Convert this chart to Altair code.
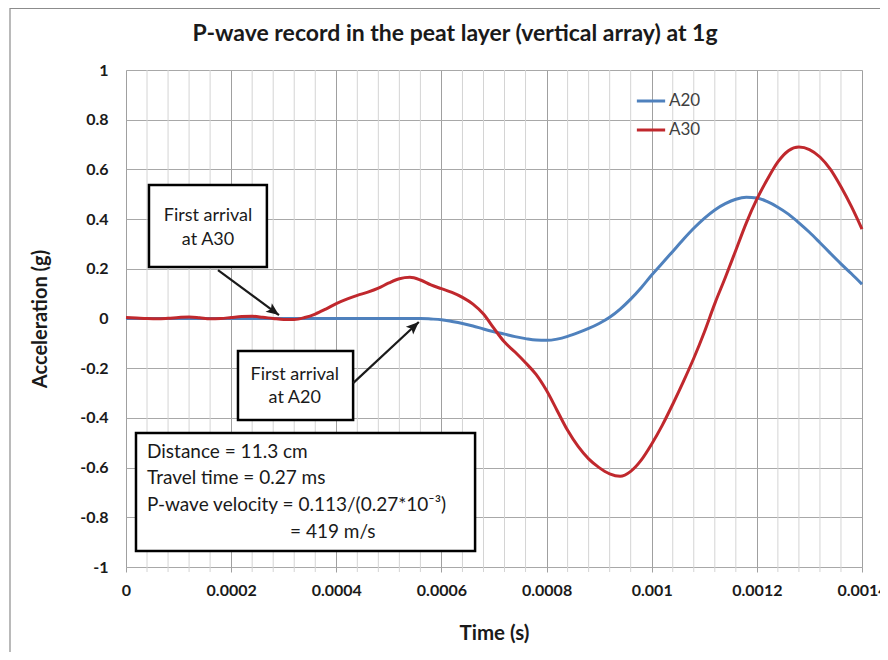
import altair as alt
import pandas as pd

# ---------------- data ----------------
time_us = [0, 20, 40, 60, 80, 100, 120, 140, 160, 180,
           200, 220, 240, 260, 280, 300, 320, 340, 360, 380,
           400, 420, 440, 460, 480, 500, 520, 540, 560, 580,
           600, 620, 640, 660, 680, 700, 720, 740, 760, 780,
           800, 820, 840, 860, 880, 900, 920, 940, 960, 980,
           1000, 1020, 1040, 1060, 1080, 1100, 1120, 1140, 1160, 1180,
           1200, 1220, 1240, 1260, 1280, 1300, 1320, 1340, 1360, 1380,
           1400]

a20 = [0.0, 0.0, 0.0, 0.0, 0.0, 0.0, 0.0, 0.0, 0.0, 0.0,
       0.0, 0.0, 0.0, 0.0, 0.0, 0.0, 0.0, 0.0, 0.0, 0.0,
       0.0, 0.0, 0.0, 0.0, 0.0, 0.0, 0.0, 0.0, 0.0, -0.002,
       -0.005, -0.012, -0.02, -0.03, -0.042, -0.053, -0.063, -0.073, -0.081, -0.087,
       -0.088, -0.083, -0.072, -0.057, -0.04, -0.02, 0.005, 0.038, 0.078, 0.124,
       0.175, 0.222, 0.27, 0.318, 0.363, 0.403, 0.437, 0.462, 0.48, 0.488,
       0.485, 0.47, 0.448, 0.42, 0.385, 0.347, 0.305, 0.262, 0.22, 0.18,
       0.138]

a30 = [0.004, 0.002, 0.0, -0.001, 0.001, 0.004, 0.006, 0.003, -0.001, 0.0,
       0.004, 0.008, 0.009, 0.005, 0.0, -0.004, -0.004, 0.004, 0.018, 0.038,
       0.06, 0.078, 0.093, 0.106, 0.122, 0.143, 0.16, 0.166, 0.155, 0.135,
       0.12, 0.105, 0.085, 0.058, 0.018, -0.04, -0.095, -0.135, -0.178, -0.225,
       -0.29, -0.37, -0.45, -0.515, -0.565, -0.6, -0.625, -0.635, -0.615, -0.57,
       -0.505, -0.43, -0.345, -0.255, -0.16, -0.055, 0.06, 0.165, 0.275, 0.385,
       0.48, 0.56, 0.63, 0.675, 0.69, 0.68, 0.65, 0.6, 0.53, 0.45,
       0.36]

series_names = ["A20", "A30"]
series_colors = ["#4F81BD", "#C0282D"]

x_ticks = [0, 0.0002, 0.0004, 0.0006, 0.0008, 0.001, 0.0012, 0.0014]
y_ticks = [-1, -0.8, -0.6, -0.4, -0.2, 0, 0.2, 0.4, 0.6, 0.8, 1]
minor_x = [i * 0.00004 for i in range(36) if i % 5 != 0]

chart_title = "P-wave record in the peat layer (vertical array) at 1g"

# ---------------- tables ----------------
rows = []
for t, v20, v30 in zip(time_us, a20, a30):
    rows.append({"t": t * 1e-6, "acc": v20, "series": "A20"})
    rows.append({"t": t * 1e-6, "acc": v30, "series": "A30"})
df = pd.DataFrame(rows)

W, H = 736, 497
FONT = "Lato"

xscale = alt.Scale(domain=[0, 0.0014], nice=False, zero=False)
yscale = alt.Scale(domain=[-1, 1], nice=False, zero=False)

# annotation geometry in data units
boxes = pd.DataFrame([
    {"x": 0.0000437, "x2": 0.000268, "y": 0.537, "y2": 0.207},
    {"x": 0.000213, "x2": 0.000432, "y": -0.131, "y2": -0.408},
    {"x": 0.000019, "x2": 0.000664, "y": -0.461, "y2": -0.936},
])
center_text = pd.DataFrame([
    {"x": 0.000156, "y": 0.412, "text": "First arrival"},
    {"x": 0.000156, "y": 0.316, "text": "at A30"},
    {"x": 0.000321, "y": -0.227, "text": "First arrival"},
    {"x": 0.000321, "y": -0.320, "text": "at A20"},
])
left_text = pd.DataFrame([
    {"x": 0.00004, "y": -0.537, "text": "Distance = 11.3 cm"},
    {"x": 0.00004, "y": -0.642, "text": "Travel time = 0.27 ms"},
    {"x": 0.00004, "y": -0.750, "text": "P-wave velocity = 0.113/(0.27*10\u207b\u00b3)"},
    {"x": 0.000312, "y": -0.859, "text": "= 419 m/s"},
])
arrows = pd.DataFrame([
    {"x": 0.000175, "y": 0.195, "x2": 0.000291, "y2": 0.014, "angle": 126},
    {"x": 0.000432, "y": -0.26, "x2": 0.000557, "y2": -0.014, "angle": 47},
])

# ---------------- layers ----------------
one = pd.DataFrame({"a": [0]})

frame = alt.Chart(one).mark_rect(
    fill="transparent", stroke="#8c8c8c", strokeWidth=1.2
).encode(x=alt.value(-116), x2=alt.value(790), y=alt.value(-61.5), y2=alt.value(640))

title_mark = alt.Chart(pd.DataFrame({"text": [chart_title]})).mark_text(
    font=FONT, fontSize=23, fontWeight="bold", color="#1a1a1a",
    align="center", baseline="middle",
).encode(x=alt.value(329), y=alt.value(-36), text="text:N")

minor = alt.Chart(pd.DataFrame({"t": minor_x})).mark_rule(
    color="#d4d4d4", strokeWidth=1
).encode(
    x=alt.X("t:Q", scale=xscale),
    y=alt.value(0), y2=alt.value(H + 5),
)

axis_x = alt.Axis(
    values=x_ticks, title="Time (s)", grid=True, gridColor="#a0a0a0", gridWidth=1,
    domain=False, ticks=True, tickSize=5, tickColor="#a0a0a0",
    labelExpr="'' + round(datum.value * 100000) / 100000",
    labelFont=FONT, labelFontSize=16, labelFontWeight="bold", labelColor="#1a1a1a",
    labelPadding=10, labelOverlap=False, labelFlush=False, labelBound=False,
    titleFont=FONT, titleFontSize=20.5, titleFontWeight="bold", titleColor="#1a1a1a",
    titleX=W / 2, titleY=66, titleBaseline="middle", titleAlign="center",
)
axis_y = alt.Axis(
    values=y_ticks, title="Acceleration (g)", grid=True, gridColor="#a8a8a8", gridWidth=1,
    domain=False, ticks=False,
    labelExpr="'' + round(datum.value * 10) / 10",
    labelFont=FONT, labelFontSize=16, labelFontWeight="bold", labelColor="#1a1a1a",
    labelPadding=18, labelOverlap=False, labelBound=False,
    titleFont=FONT, titleFontSize=20, titleFontWeight="bold", titleColor="#1a1a1a",
    titleX=-86, titleY=H / 2, titleAngle=-90, titleBaseline="middle", titleAlign="center",
)

lines = alt.Chart(df).mark_line(strokeWidth=3, interpolate="monotone").encode(
    x=alt.X("t:Q", scale=xscale, axis=axis_x),
    y=alt.Y("acc:Q", scale=yscale, axis=axis_y),
    color=alt.Color(
        "series:N",
        scale=alt.Scale(domain=series_names, range=series_colors),
        legend=alt.Legend(
            title=None, orient="none", legendX=509, legendY=15,
            symbolType="stroke", symbolSize=800, symbolStrokeWidth=3,
            labelFont=FONT, labelFontSize=17, labelColor="#404040",
            rowPadding=5, labelOffset=2,
        ),
    ),
)

box_layer = alt.Chart(boxes).mark_rect(
    fill="white", stroke="black", strokeWidth=2.5
).encode(
    x=alt.X("x:Q", scale=xscale), x2="x2:Q",
    y=alt.Y("y:Q", scale=yscale), y2="y2:Q",
)

ctext = alt.Chart(center_text).mark_text(
    font=FONT, fontSize=18, color="#1a1a1a", align="center", baseline="middle"
).encode(x=alt.X("x:Q", scale=xscale), y=alt.Y("y:Q", scale=yscale), text="text:N")

ltext = alt.Chart(left_text).mark_text(
    font=FONT, fontSize=19, color="#1a1a1a", align="left", baseline="middle"
).encode(x=alt.X("x:Q", scale=xscale), y=alt.Y("y:Q", scale=yscale), text="text:N")

arrow_lines = alt.Chart(arrows).mark_rule(color="#1a1a1a", strokeWidth=2.2).encode(
    x=alt.X("x:Q", scale=xscale), x2="x2:Q",
    y=alt.Y("y:Q", scale=yscale), y2="y2:Q",
)
arrow_heads = alt.Chart(arrows).mark_point(
    shape="M0,0 L-0.42,1 L0,0.78 L0.42,1 Z", filled=True, color="#1a1a1a",
    size=650, opacity=1,
).encode(
    x=alt.X("x2:Q", scale=xscale), y=alt.Y("y2:Q", scale=yscale),
    angle=alt.Angle("angle:Q", scale=None),
)

chart = alt.layer(
    frame, title_mark, minor, lines, box_layer, ctext, ltext, arrow_lines, arrow_heads
).properties(
    width=W, height=H,
    autosize=alt.AutoSizeParams(type="none"),
    padding={"left": 118, "top": 62, "right": 18, "bottom": 85},
).configure_view(stroke="#a0a0a0", strokeWidth=1).configure(background="white")

chart.save("out.html", embed_options={"renderer": "svg", "actions": False})
